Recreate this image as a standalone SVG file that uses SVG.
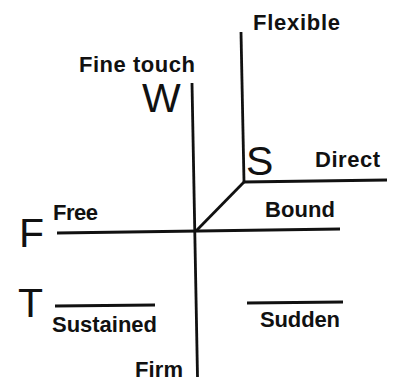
<svg xmlns="http://www.w3.org/2000/svg" width="393" height="381" viewBox="0 0 393 381">
<style>
.ln{stroke:#111;stroke-width:2.8;fill:none;stroke-linecap:butt}
.lb{font-family:"Liberation Sans",Arial,sans-serif;font-weight:bold;font-size:22px;fill:#111}
.big{font-family:"Liberation Sans",Arial,sans-serif;font-size:41px;fill:#111}
</style>
<rect width="393" height="381" fill="#fff"/>
<g id="connectors">
<line class="ln" x1="192" y1="83" x2="197.5" y2="377"/>
<line class="ln" x1="241" y1="32" x2="244" y2="182"/>
<line class="ln" x1="243" y1="182" x2="387" y2="180"/>
<line class="ln" x1="245" y1="181" x2="196" y2="231"/>
<line class="ln" x1="57" y1="233" x2="340" y2="229"/>
<line class="ln" x1="55" y1="306" x2="155" y2="305"/>
<line class="ln" x1="247" y1="303" x2="343" y2="302"/>
</g>
<g id="W"><text class="big" x="142" y="112">W</text></g>
<g id="S"><text class="big" x="246" y="175">S</text></g>
<g id="F"><text class="big" x="19" y="247">F</text></g>
<g id="T"><text class="big" x="18" y="317">T</text></g>
<g id="flexible"><text class="lb" x="253" y="30" textLength="87" lengthAdjust="spacing">Flexible</text></g>
<g id="fine-touch"><text class="lb" x="79" y="72" textLength="116" lengthAdjust="spacing">Fine touch</text></g>
<g id="direct"><text class="lb" x="315" y="167" textLength="65" lengthAdjust="spacing">Direct</text></g>
<g id="free"><text class="lb" x="53" y="220" textLength="45" lengthAdjust="spacing">Free</text></g>
<g id="bound"><text class="lb" x="265" y="217" textLength="70" lengthAdjust="spacing">Bound</text></g>
<g id="sustained"><text class="lb" x="52" y="332" textLength="105" lengthAdjust="spacing">Sustained</text></g>
<g id="sudden"><text class="lb" x="260" y="327" textLength="80" lengthAdjust="spacing">Sudden</text></g>
<g id="firm"><text class="lb" x="135" y="377" textLength="48" lengthAdjust="spacing">Firm</text></g>
</svg>
